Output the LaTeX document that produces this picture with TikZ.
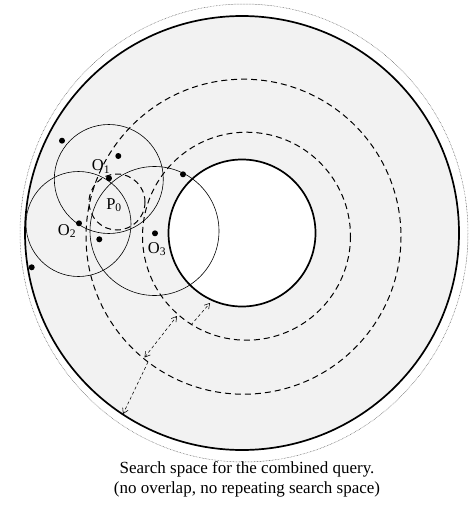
\documentclass[tikz,border=0pt]{standalone}
\usepackage{fontspec}
\setmainfont{Liberation Serif}
\usetikzlibrary{arrows.meta}
\definecolor{ringgray}{gray}{0.95}
\begin{document}
\begin{tikzpicture}[x=1pt,y=-1pt,
  thickring/.style={line width=1.7pt},
  qcircle/.style={line width=0.6pt},
  dring/.style={line width=1pt, dash pattern=on 6pt off 4pt},
  dot/.style={circle, fill=black, inner sep=0pt, minimum size=6pt},
  lbl/.style={font=\fontsize{16.5}{18}\selectfont, inner sep=0pt},
  meas/.style={line width=0.55pt, dash pattern=on 3pt off 2.5pt},
  tip/.style={Straight Barb[length=5pt,width=6pt]}
]
\useasboundingbox (0,0) rectangle (469,506);
% outer dotted boundary
\draw[black!65, line width=0.5pt, dash pattern=on 0.6pt off 0.9pt] (244,233) ellipse [x radius=224, y radius=229];
% shaded annulus
\fill[ringgray, even odd rule] (242,233) circle[radius=217] (242,233) circle[radius=73.5];
\draw[thickring] (242,233) circle[radius=217];
\draw[thickring] (242,233) circle[radius=73.5];
% dashed rings
\draw[dring] (246.5,236.2) circle[radius=104];
\draw[dring] (243.5,236.7) circle[radius=157.5];
% query circles
\draw[qcircle] (108.8,179) circle[radius=54.5];
\draw[qcircle] (78.5,224) circle[radius=52.5];
\draw[qcircle] (154.5,231) circle[radius=64.5];
\draw[dring] (117,202) circle[radius=28];
% dots
\node[dot] (d1) at (62,140.7) {};
\node[dot] (d2) at (118.3,156) {};
\node[dot] (o1) at (109,178.3) {};
\node[dot] (d4) at (183,174.3) {};
\node[dot] (o2) at (79,223.3) {};
\node[dot] (d6) at (99.3,239.3) {};
\node[dot] (o3) at (155,233.3) {};
\node[dot] (d8) at (31.7,267.3) {};
% labels
\node[lbl] (l1) at (101,166.5) {O\textsubscript{1}};
\node[lbl] (l2) at (67,231) {O\textsubscript{2}};
\node[lbl] (l3) at (157,249) {O\textsubscript{3}};
\node[lbl] (lp) at (114,205) {P\textsubscript{0}};
% measurement arrows
\coordinate (a1) at (144.5,357.5);
\coordinate (a2) at (177,316);
\coordinate (b1) at (191,325);
\coordinate (b2) at (210,303);
\coordinate (c1) at (148,362);
\coordinate (c2) at (123,414);
\draw[meas, {Straight Barb[length=5pt,width=6pt]}-{Straight Barb[length=5pt,width=6pt]}] (a1) -- (a2);
\draw[meas, -{Straight Barb[length=5pt,width=6pt]}] (b1) -- (b2);
\draw[meas, -{Straight Barb[length=5pt,width=6pt]}] (c1) -- (c2);
% caption
\node[font=\fontsize{17}{20}\selectfont, align=center, inner sep=0pt] (cap) at (247,479)
  {Search space for the combined query.\\(no overlap, no repeating search space)};
\end{tikzpicture}
\end{document}
